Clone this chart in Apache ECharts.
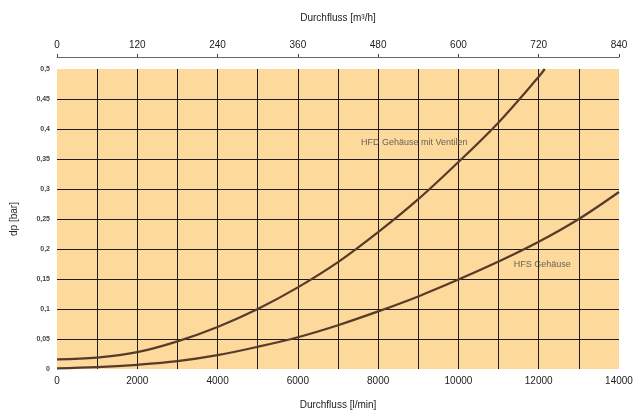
<!DOCTYPE html>
<html>
<head>
<meta charset="utf-8">
<script src="https://cdn.jsdelivr.net/npm/echarts@6/dist/echarts.min.js"></script>
<style>
html,body{margin:0;padding:0;background:#fff;}
#chart{width:637px;height:415px;}
</style>
</head>
<body>
<div id="chart"></div>
<script>
// Data
var hfdFlow = [0, 1000, 2000, 3000, 4000, 5000, 6000, 7000, 8000, 9000, 10000, 11000, 12000, 12150];
var hfdDp   = [0.016, 0.019, 0.028, 0.046, 0.070, 0.100, 0.136, 0.178, 0.228, 0.283, 0.345, 0.411, 0.487, 0.500];
var hfsFlow = [0, 1000, 2000, 3000, 4000, 5000, 6000, 7000, 8000, 9000, 10000, 11000, 12000, 13000, 14000];
var hfsDp   = [0.001, 0.003, 0.007, 0.013, 0.023, 0.037, 0.053, 0.073, 0.096, 0.121, 0.149, 0.179, 0.212, 0.250, 0.295];
var seriesNames = ['HFD Gehäuse mit Ventilen', 'HFS Gehäuse'];
var labelFlow = [8900, 11380];
var labelDp = [0.378, 0.174];
var xTitleBottom = 'Durchfluss [l/min]';
var xTitleTop = 'Durchfluss [m³/h]';
var yTitle = 'dp [bar]';

function pairs(xs, ys) { return xs.map(function (x, i) { return [x, ys[i]]; }); }

var font = 'Liberation Sans, Arial, sans-serif';
var gridLine = { show: true, showMinLine: false, showMaxLine: false, lineStyle: { color: '#1c1c1c', width: 1 } };

var chart = echarts.init(document.getElementById('chart'), null, { renderer: 'canvas' });
chart.setOption({
  animation: false,
  textStyle: { fontFamily: font },
  grid: {
    left: 57, right: 18, top: 69, bottom: 43,
    show: true, backgroundColor: '#fdd99b', borderWidth: 0
  },
  xAxis: [{
    type: 'value', min: 0, max: 14000, interval: 1000, position: 'bottom',
    axisLine: { show: false }, axisTick: { show: false },
    axisLabel: {
      color: '#222', fontSize: 10, margin: 7, fontFamily: font,
      formatter: function (v) { return v % 2000 === 0 ? String(v) : ''; }
    },
    splitLine: gridLine,
    name: xTitleBottom, nameLocation: 'middle', nameGap: 31,
    nameTextStyle: { color: '#222', fontSize: 10, fontFamily: font }
  }, {
    type: 'value', min: 0, max: 840, interval: 120, position: 'top', offset: 12,
    axisLine: { show: true, lineStyle: { color: '#666', width: 1 } },
    axisTick: { show: true, length: 3, lineStyle: { color: '#444' } },
    axisLabel: { color: '#222', fontSize: 10, margin: 7, fontFamily: font },
    splitLine: { show: false },
    name: xTitleTop, nameLocation: 'middle', nameGap: 34,
    nameTextStyle: { color: '#222', fontSize: 10, fontFamily: font }
  }],
  yAxis: {
    type: 'value', min: 0, max: 0.5, interval: 0.05,
    axisLine: { show: false }, axisTick: { show: false },
    axisLabel: {
      color: '#444', fontSize: 7, fontWeight: 'bold', margin: 7, fontFamily: font,
      formatter: function (v) { return String(Math.round(v * 100) / 100).replace('.', ','); }
    },
    splitLine: gridLine,
    name: yTitle, nameLocation: 'middle', nameGap: 38,
    nameTextStyle: { color: '#222', fontSize: 10, fontFamily: font }
  },
  series: [{
    name: seriesNames[0], type: 'line', smooth: 0.35, showSymbol: false,
    data: pairs(hfdFlow, hfdDp),
    lineStyle: { color: '#563b2b', width: 2.2 }, z: 5
  }, {
    name: seriesNames[1], type: 'line', smooth: 0.35, showSymbol: false,
    data: pairs(hfsFlow, hfsDp),
    lineStyle: { color: '#563b2b', width: 2.2 }, z: 5
  }, {
    type: 'scatter', symbolSize: 0, silent: true, z: 6,
    data: [
      { value: [labelFlow[0], labelDp[0]], name: seriesNames[0], label: { align: 'center' } },
      { value: [labelFlow[1], labelDp[1]], name: seriesNames[1], label: { align: 'left' } }
    ],
    label: {
      show: true, position: 'inside', formatter: '{b}',
      color: '#444', fontSize: 9, fontFamily: font
    }
  }]
});
</script>
</body>
</html>
